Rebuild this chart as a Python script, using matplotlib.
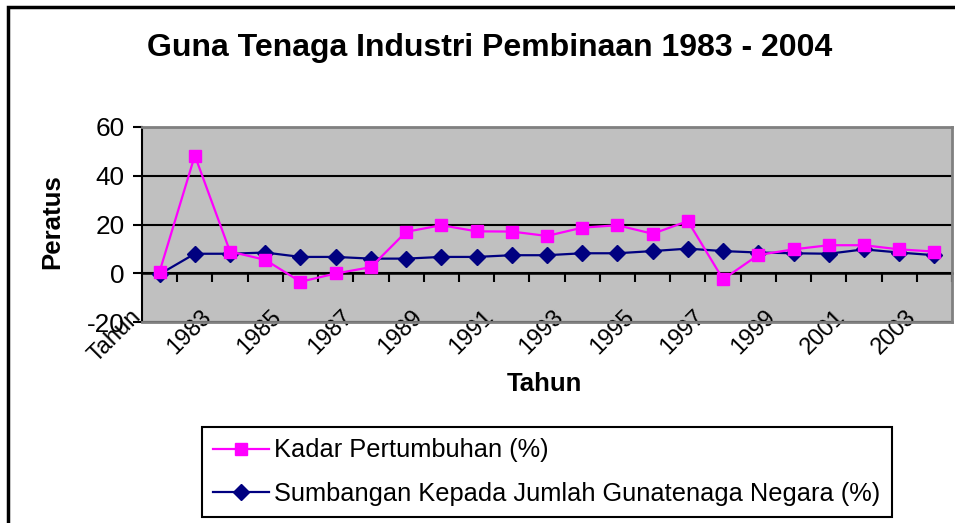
import numpy as np
import matplotlib
matplotlib.use("Agg")
import matplotlib.pyplot as plt
from matplotlib.patches import Rectangle

plt.rcParams["font.family"] = ["Liberation Sans", "DejaVu Sans"]
plt.rcParams["axes.unicode_minus"] = False

# categories along the x axis (first row of the sheet is the header "Tahun")
categories = ["Tahun", "1982", "1983", "1984", "1985", "1986", "1987", "1988",
              "1989", "1990", "1991", "1992", "1993", "1994", "1995", "1996",
              "1997", "1998", "1999", "2000", "2001", "2002", "2003"]
kadar = [0.7, 48.3, 8.9, 5.5, -3.5, -0.1, 2.5, 17.0, 19.7, 17.2, 17.1, 15.3,
         18.7, 19.7, 16.2, 21.4, -2.5, 7.5, 9.8, 11.5, 11.5, 9.8, 8.9]
sumbangan = [-0.4, 8.0, 8.0, 8.5, 6.7, 6.7, 6.0, 6.0, 6.7, 6.7, 7.4, 7.4,
             8.2, 8.2, 9.1, 10.1, 9.1, 8.5, 8.2, 8.0, 9.8, 8.5, 7.4]
y_ticks = [-20, 0, 20, 40, 60]

W, H = 955, 523
fig = plt.figure(figsize=(W / 100, H / 100), dpi=100)
ax = fig.add_axes([142 / W, 1 - 322 / H, 810 / W, 195 / H])
ax.set_facecolor("#C0C0C0")

x = np.arange(len(categories))
l2, = ax.plot(x, sumbangan, color="#000080", lw=1.6, marker="D", ms=8,
              zorder=3, label="Sumbangan Kepada Jumlah Gunatenaga Negara (%)")
l1, = ax.plot(x, kadar, color="#FF00FF", lw=1.6, marker="s", ms=9,
              zorder=4, label="Kadar Pertumbuhan (%)")

ax.set_xlim(-0.5, len(categories) - 0.5)
ax.set_ylim(-20, 60)
ax.set_yticks(y_ticks)
ax.set_axisbelow(True)
ax.grid(axis="y", color="black", lw=1.5)

# every second category label, sitting at the category boundary like Excel
ax.set_xticks(x[::2] - 0.5, categories[::2])
ax.tick_params(axis="x", length=0, pad=-3, labelsize=17)
for lab in ax.get_xticklabels():
    lab.set_rotation(45)
    lab.set_ha("right")
    lab.set_va("baseline")
    lab.set_rotation_mode("anchor")
ax.tick_params(axis="y", direction="out", length=6.5, width=1.5, pad=6,
               labelsize=18.8)

for s in ["top", "right", "bottom"]:
    ax.spines[s].set_color("#808080")
    ax.spines[s].set_linewidth(2)
ax.spines["left"].set_color("black")
ax.spines["left"].set_linewidth(1.5)

# category axis crossing at zero with tick marks between categories
zero = ax.secondary_xaxis((0 - (-20)) / 80)
zero.set_xticks(x + 0.5)
zero.tick_params(axis="x", direction="out", length=6.5, width=1.5,
                 labelbottom=False)
zero.spines["bottom"].set_linewidth(1.8)
zero.spines["bottom"].set_color("black")

fig.text(490 / W, 1 - 56 / H, "Guna Tenaga Industri Pembinaan 1983 - 2004",
         ha="center", va="baseline", fontsize=23, fontweight="bold")
fig.text(544 / W, 1 - 391 / H, "Tahun", ha="center", va="baseline",
         fontsize=18.5, fontweight="bold")
fig.text(52 / W, 1 - 222 / H, "Peratus", ha="center", va="center",
         rotation=90, fontsize=18.5, fontweight="bold")

leg = fig.legend(handles=[l1, l2], loc="lower left",
                 bbox_to_anchor=(202 / W, 6 / H), borderaxespad=0,
                 fontsize=18.3, handlelength=2.2, handletextpad=0.2,
                 borderpad=0.45, labelspacing=0.75, fancybox=False,
                 framealpha=1, edgecolor="black")
leg.get_frame().set_linewidth(1.5)

# outer chart border (right and bottom edges fall outside the picture)
fig.add_artist(Rectangle((8 / W, -0.1), 1.2, 1.1 - 7 / H, fill=False,
                         lw=2.5, edgecolor="black",
                         transform=fig.transFigure, clip_on=False))

fig.savefig("out.png", dpi=100)
